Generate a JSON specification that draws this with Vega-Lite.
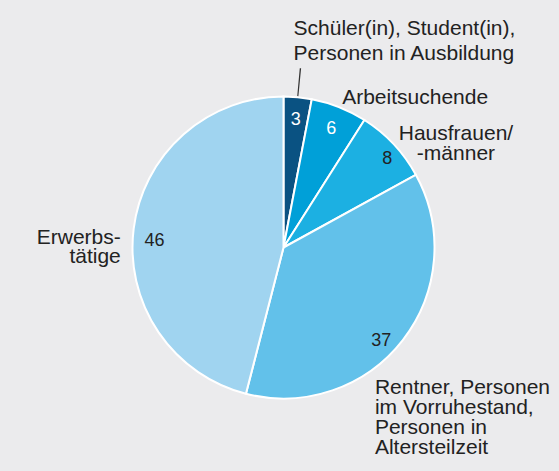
{
  "$schema": "https://vega.github.io/schema/vega-lite/v6.json",
  "width": 559,
  "height": 471,
  "autosize": {"type": "fit", "contains": "padding"},
  "padding": {"left": 8, "top": 24, "right": 0, "bottom": 0},
  "background": "#ebebed",
  "config": {"view": {"stroke": null}, "text": {"font": "Liberation Sans", "color": "#222222"}},
  "data": {
    "values": [
      {"cat": "Schüler(in), Student(in), Personen in Ausbildung", "label": "Schüler(in), Student(in),\nPersonen in Ausbildung", "value": 3},
      {"cat": "Arbeitsuchende", "label": "Arbeitsuchende", "value": 6},
      {"cat": "Hausfrauen/-männer", "label": "Hausfrauen/\n-männer", "value": 8},
      {"cat": "Rentner, Personen im Vorruhestand, Personen in Altersteilzeit", "label": "Rentner, Personen\nim Vorruhestand,\nPersonen in\nAltersteilzeit", "value": 37},
      {"cat": "Erwerbstätige", "label": "Erwerbs-\ntätige", "value": 46}
    ]
  },
  "layer": [
    {
      "mark": {"type": "arc", "outerRadius": 151, "stroke": "white", "strokeWidth": 2},
      "encoding": {
        "theta": {"field": "value", "type": "quantitative", "stack": true},
        "order": {"field": "value", "type": "quantitative", "sort": "ascending"},
        "color": {
          "field": "cat",
          "type": "nominal",
          "legend": null,
          "scale": {
            "domain": ["Schüler(in), Student(in), Personen in Ausbildung", "Arbeitsuchende", "Hausfrauen/-männer", "Rentner, Personen im Vorruhestand, Personen in Altersteilzeit", "Erwerbstätige"],
            "range": ["#0a5282", "#00a0d8", "#1cb0e2", "#62c1ea", "#a0d4f0"]
          }
        }
      }
    },
    {
      "transform": [{"filter": "datum.value === 3"}],
      "mark": {"type": "arc", "radius": 180, "radius2": 152, "color": "#333333"},
      "encoding": {
        "theta": {"datum": 1.44, "type": "quantitative"},
        "theta2": {"datum": 1.56}
      }
    },
    {
      "mark": {"type": "text", "radius": 130, "dy": 2, "fontSize": 18, "align": "center", "baseline": "middle", "color": "#ffffff"},
      "encoding": {
        "theta": {"field": "value", "type": "quantitative", "stack": true},
        "order": {"field": "value", "type": "quantitative", "sort": "ascending"},
        "text": {"condition": {"test": "datum.value < 7", "field": "value", "type": "quantitative"}, "value": ""}
      }
    },
    {
      "mark": {"type": "text", "radius": 130, "dx": 9, "fontSize": 18, "align": "center", "baseline": "middle"},
      "encoding": {
        "theta": {"field": "value", "type": "quantitative", "stack": true},
        "order": {"field": "value", "type": "quantitative", "sort": "ascending"},
        "text": {"condition": {"test": "datum.value === 8", "field": "value", "type": "quantitative"}, "value": ""}
      }
    },
    {
      "mark": {"type": "text", "radius": 130, "dx": -5, "dy": 14, "fontSize": 18, "align": "center", "baseline": "middle"},
      "encoding": {
        "theta": {"field": "value", "type": "quantitative", "stack": true},
        "order": {"field": "value", "type": "quantitative", "sort": "ascending"},
        "text": {"condition": {"test": "datum.value === 37", "field": "value", "type": "quantitative"}, "value": ""}
      }
    },
    {
      "mark": {"type": "text", "radius": 130, "dy": 10, "fontSize": 18, "align": "center", "baseline": "middle"},
      "encoding": {
        "theta": {"field": "value", "type": "quantitative", "stack": true},
        "order": {"field": "value", "type": "quantitative", "sort": "ascending"},
        "text": {"condition": {"test": "datum.value === 46", "field": "value", "type": "quantitative"}, "value": ""}
      }
    },
    {
      "mark": {"type": "text", "radius": 213, "dx": -10, "align": "left", "baseline": "alphabetic", "fontSize": 21, "lineHeight": 25, "lineBreak": "\n"},
      "encoding": {
        "theta": {"field": "value", "type": "quantitative", "stack": true},
        "order": {"field": "value", "type": "quantitative", "sort": "ascending"},
        "text": {"condition": {"test": "datum.value === 3", "field": "label", "type": "nominal"}, "value": ""}
      }
    },
    {
      "mark": {"type": "text", "radius": 154, "dx": 2, "align": "left", "baseline": "alphabetic", "fontSize": 21, "lineHeight": 20, "lineBreak": "\n"},
      "encoding": {
        "theta": {"field": "value", "type": "quantitative", "stack": true},
        "order": {"field": "value", "type": "quantitative", "sort": "ascending"},
        "text": {"condition": {"test": "datum.value === 6", "field": "label", "type": "nominal"}, "value": ""}
      }
    },
    {
      "mark": {"type": "text", "radius": 157, "dx": 58, "align": "center", "baseline": "alphabetic", "fontSize": 21, "lineHeight": 20, "lineBreak": "\n"},
      "encoding": {
        "theta": {"field": "value", "type": "quantitative", "stack": true},
        "order": {"field": "value", "type": "quantitative", "sort": "ascending"},
        "text": {"condition": {"test": "datum.value === 8", "field": "label", "type": "nominal"}, "value": ""}
      }
    },
    {
      "mark": {"type": "text", "radius": 160, "dx": -35, "dy": 48, "align": "left", "baseline": "alphabetic", "fontSize": 21, "lineHeight": 20, "lineBreak": "\n"},
      "encoding": {
        "theta": {"field": "value", "type": "quantitative", "stack": true},
        "order": {"field": "value", "type": "quantitative", "sort": "ascending"},
        "text": {"condition": {"test": "datum.value === 37", "field": "label", "type": "nominal"}, "value": ""}
      }
    },
    {
      "mark": {"type": "text", "radius": 164, "dy": 17, "align": "right", "baseline": "alphabetic", "fontSize": 21, "lineHeight": 19, "lineBreak": "\n"},
      "encoding": {
        "theta": {"field": "value", "type": "quantitative", "stack": true},
        "order": {"field": "value", "type": "quantitative", "sort": "ascending"},
        "text": {"condition": {"test": "datum.value === 46", "field": "label", "type": "nominal"}, "value": ""}
      }
    }
  ]
}
